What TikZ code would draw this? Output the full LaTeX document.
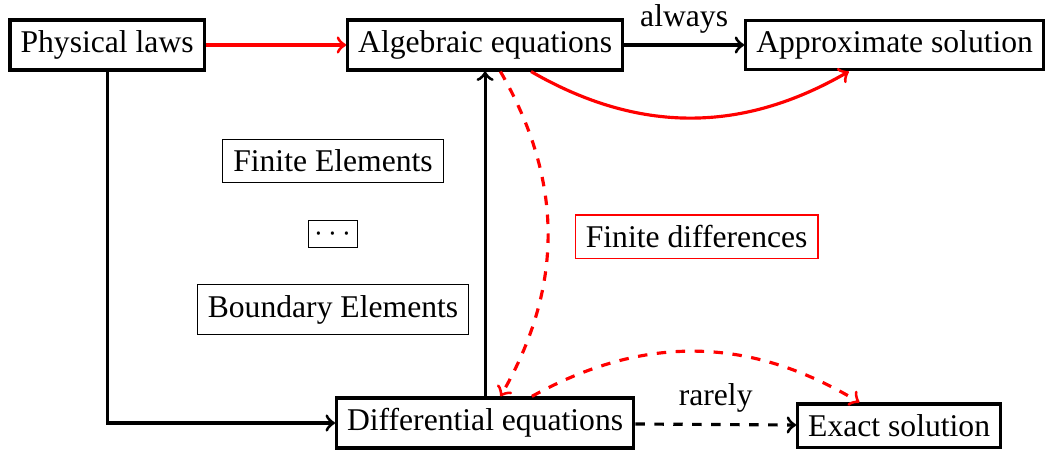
\documentclass[tikz,border=0pt]{standalone}
\usepackage{fontspec}
\setmainfont{Liberation Serif}
\usepackage{xcolor}
\usepackage{tikz}
\usetikzlibrary{arrows, positioning}
\tikzstyle{block} = [rectangle, draw=black, line width=1pt, text centered]
\tikzstyle{method} = [rectangle, draw=black, text centered]
\tikzstyle{arrow} = [line width=1pt,->]
\tikzstyle{redarrow} = [line width=1pt,->,red]
\tikzstyle{dasharrow} = [line width=1pt,->,dashed]

\begin{document}
\begin{tikzpicture}[node distance=4.2cm, auto]
        \useasboundingbox (0,0) rectangle (11.622,-5.0);

        \node [block] (phys) at (1.19,-0.5) {Physical laws};
        \node [block, right of=phys] (alg) {Algebraic equations};
        \node [block, right of=alg, xshift=0.35cm] (approx) {Approximate solution};

        \node [block, below of=alg] (diff) {Differential equations};
        \node [block, right of=diff, xshift=0.4cm, yshift=-0.03cm] (exact) {Exact solution};

        \node [method, inner sep=2pt] (dots) at (3.7,-2.6) {$\cdots$};
        \node [method, above of=dots, node distance=0.81cm] (fe) {Finite Elements};
        \node [method, below of=dots, node distance=0.84cm] (be) {Boundary Elements};
        \node [method, draw=red, right of=dots, xshift=-0.16cm, yshift=-0.03cm] (fd) {Finite differences};

        \draw [redarrow] (phys) -- (alg);
        \draw [arrow] (alg) -- node[above] {always} (approx);
        \draw [redarrow] (alg) to[bend right] (approx);

        \draw [arrow] (phys) |- (diff);
        \draw [arrow] (diff.north) -- (diff.north |- alg.south);
        \draw [redarrow, dashed] (alg) to[bend left] (diff);

        \draw [dasharrow] (diff) -- node[above] {rarely} (exact);
        \draw [redarrow, dashed] (diff) to[bend left] (exact);
    \end{tikzpicture}
\end{document}
